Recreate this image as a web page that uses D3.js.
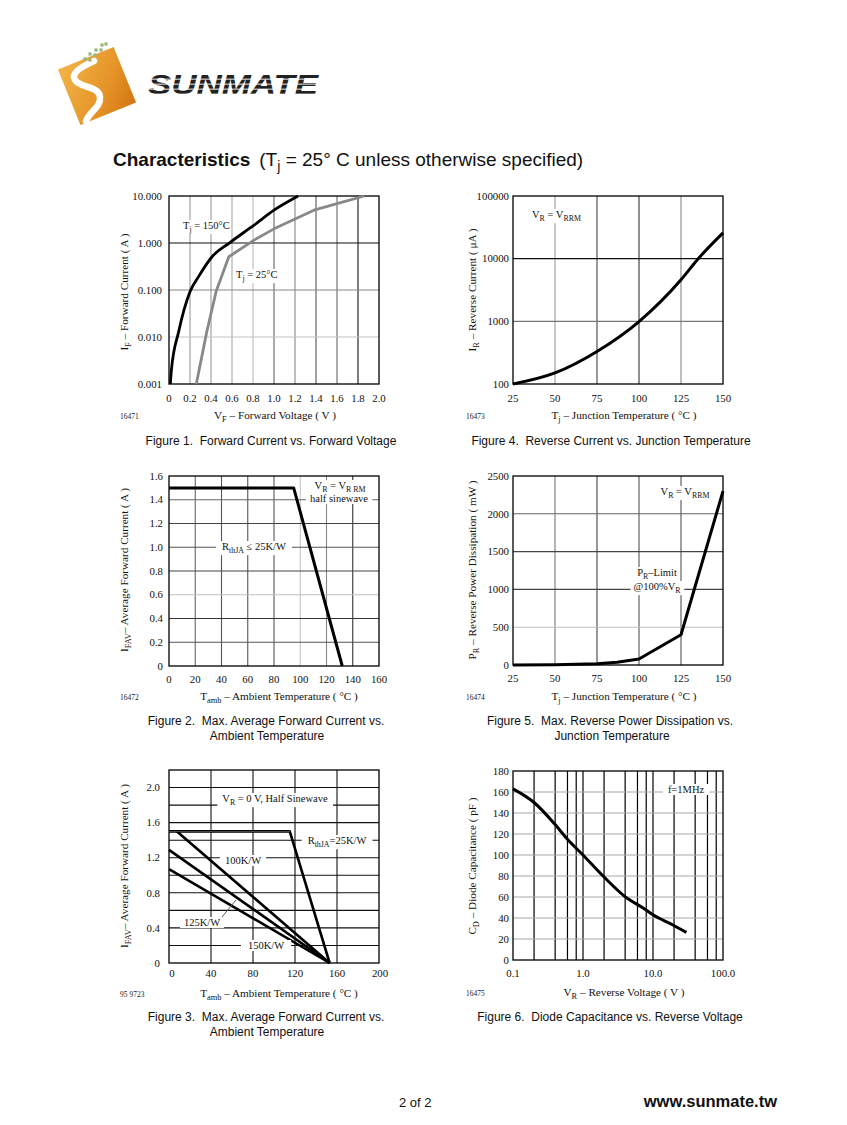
<!DOCTYPE html>
<html><head><meta charset="utf-8">
<script src="https://cdn.jsdelivr.net/npm/d3@7"></script>
<style>body{margin:0;background:#fff}svg{display:block}</style>
</head><body>
<script>
// ---------------- DATA ----------------
// Figure 1: forward current vs forward voltage
const fig1XTicks = [0,0.2,0.4,0.6,0.8,1.0,1.2,1.4,1.6,1.8,2.0];
const fig1XTickLabels = ["0","0.2","0.4","0.6","0.8","1.0","1.2","1.4","1.6","1.8","2.0"];
const fig1YTicks = [0.001,0.01,0.1,1,10];
const fig1YTickLabels = ["0.001","0.010","0.100","1.000","10.000"];
const fig1Volt150 = [0.013,0.022,0.092,0.2,0.28,0.41,0.58,0.81,1.0,1.23];
const fig1Curr150 = [0.001,0.0019,0.013,0.092,0.19,0.51,1.02,2.4,5.0,10];
const fig1Volt25 = [0.26,0.36,0.45,0.57,0.81,1.0,1.38,1.66,1.86];
const fig1Curr25 = [0.001,0.013,0.095,0.51,1.15,2.0,5.0,7.5,10];

// Figure 4: reverse current vs junction temperature
const fig4XTicks = [25,50,75,100,125,150];
const fig4YTicks = [100,1000,10000,100000];
const fig4YTickLabels = ["100","1000","10000","100000"];
const fig4Temp = [25,50,75,100,125,135,150];
const fig4Curr = [100,150,330,990,4600,9800,25800];

// Figure 2: max average forward current vs ambient temperature
const fig2XTicks = [0,20,40,60,80,100,120,140,160];
const fig2YTicks = [0,0.2,0.4,0.6,0.8,1.0,1.2,1.4,1.6];
const fig2YTickLabels = ["0","0.2","0.4","0.6","0.8","1.0","1.2","1.4","1.6"];
const fig2Temp = [0,95,132];
const fig2Curr = [1.5,1.5,0];

// Figure 5: max reverse power dissipation vs junction temperature
const fig5XTicks = [25,50,75,100,125,150];
const fig5YTicks = [0,500,1000,1500,2000,2500];
const fig5Temp = [25,50,75,87,100,125,150];
const fig5Power = [0,2,15,35,80,400,2300];

// Figure 3: max average forward current vs ambient temperature, several R_thJA
const fig3XTicks = [0,40,80,120,160,200];
const fig3YTicks = [0,0.4,0.8,1.2,1.6,2.0];
const fig3YTickLabels = ["0","0.4","0.8","1.2","1.6","2.0"];
const fig3YGrid = [0.2,0.4,0.6,0.8,1.0,1.2,1.4,1.6,1.8,2.0];
const fig3Temp25 = [0,115,153];
const fig3Curr25 = [1.5,1.5,0];
const fig3Temp100 = [7.6,153];
const fig3Curr100 = [1.5,0];
const fig3Temp125 = [0,153];
const fig3Curr125 = [1.29,0];
const fig3Temp150 = [0,153];
const fig3Curr150 = [1.07,0];

// Figure 6: diode capacitance vs reverse voltage
const fig6XTicks = [0.1,1,10,100];
const fig6XTickLabels = ["0.1","1.0","10.0","100.0"];
const fig6XGrid = [0.2,0.4,0.6,0.8,1,2,4,6,8,10,20,40,60,80];
const fig6YTicks = [0,20,40,60,80,100,120,140,160,180];
const fig6Volt = [0.1,0.2,0.4,0.6,1.0,2.0,3.94,7.6,10,19,30];
const fig6Cap = [163,150,129,115,100,79,60.6,48.6,43,33.6,26.3];

// ---------------- DRAW ----------------
const SERIF = "'Liberation Serif','Times New Roman',serif";
const SANS = "'Liberation Sans',Arial,sans-serif";
const svg = d3.select("body").append("svg").attr("width",847).attr("height",1125)
  .style("background","#fff");

function rich(t, parts, size){
  let shifted = false;
  parts.forEach(p=>{
    const [s, kind] = Array.isArray(p) ? p : [p, ""];
    const ts = t.append("tspan").text(s);
    if(kind==="sub"){
      ts.attr("font-size", size*0.75);
      if(!shifted){ ts.attr("dy", size*0.3); shifted = true; }
    } else {
      ts.attr("font-size", size);
      if(shifted){ ts.attr("dy", -size*0.3); shifted = false; }
    }
  });
  return t;
}

function note(g, x, y, parts, anchor, size, padX){
  const t = g.append("text").attr("x",x).attr("y",y)
    .attr("font-family",SERIF).attr("text-anchor",anchor||"start").attr("fill","#111");
  rich(t, parts, size||10.5);
  const b = t.node().getBBox();
  const px = padX==null?3:padX;
  g.insert("rect", function(){ return t.node(); })
    .attr("x", b.x-px).attr("y", b.y).attr("width", b.width+2*px).attr("height", b.height)
    .attr("fill","#fff");
  return t;
}

function chart(c){
  const g = svg.append("g");
  const x = c.x, y = c.y;
  const [X0,X1] = x.range(), [Y1,Y0] = y.range();
  c.vgrid.forEach((v,i)=>{
    g.append("line").attr("x1",x(v)).attr("x2",x(v)).attr("y1",Y0).attr("y2",Y1)
      .attr("stroke",c.vcol[i] || c.vcol[0]).attr("stroke-width",c.gw||1.1);
  });
  c.hgrid.forEach((v,i)=>{
    g.append("line").attr("x1",X0).attr("x2",X1).attr("y1",y(v)).attr("y2",y(v))
      .attr("stroke",c.hcol[i] || c.hcol[0]).attr("stroke-width",c.gw||1.1);
  });
  g.append("rect").attr("x",X0).attr("y",Y0).attr("width",X1-X0).attr("height",Y1-Y0)
    .attr("fill","none").attr("stroke","#000").attr("stroke-width",1.3);
  c.xticks.forEach((v,i)=>{
    g.append("text").attr("x",x(v)+(c.xdx?c.xdx(i):0)).attr("y",Y1+c.xoff)
      .attr("text-anchor","middle").attr("font-family",SERIF).attr("font-size",10.8)
      .attr("fill","#111").text(c.xlabels ? c.xlabels[i] : String(v));
  });
  c.yticks.forEach((v,i)=>{
    g.append("text").attr("x",X0-c.yoff).attr("y",y(v)+3.7)
      .attr("text-anchor","end").attr("font-family",SERIF).attr("font-size",10.8)
      .attr("fill","#111").text(c.ylabels ? c.ylabels[i] : String(v));
  });
  c.series.forEach(s=>{
    const pts = s.xs.map((v,i)=>[x(v), y(s.ys[i])]);
    g.append("path").attr("d", d3.line().curve(s.curve||d3.curveLinear)(pts))
      .attr("fill","none").attr("stroke",s.color||"#000").attr("stroke-width",s.w||2.8)
      .attr("stroke-linejoin","round");
  });
  const xt = g.append("text").attr("x",c.xtitle[0]).attr("y",c.xtitle[1])
    .attr("text-anchor","middle").attr("font-family",SERIF).attr("fill","#111");
  rich(xt, c.xtitle[2], 11.2);
  const yt = g.append("text").attr("transform",`translate(${c.ytitle[0]},${c.ytitle[1]}) rotate(-90)`)
    .attr("text-anchor","middle").attr("font-family",SERIF).attr("fill","#111");
  rich(yt, c.ytitle[2], 11.2);
  g.append("text").attr("x",c.id[0]).attr("y",c.id[1]).attr("font-family",SERIF)
    .attr("font-size",7.5).attr("fill","#222").text(c.id[2]);
  c.caption.forEach(cp=>{
    g.append("text").attr("x",cp[0]).attr("y",cp[1]).attr("text-anchor","middle")
      .attr("font-family",SANS).attr("font-size",12).attr("fill","#111")
      .attr("xml:space","preserve").style("white-space","pre").text(cp[2]);
  });
  return g;
}

// ----- Figure 1 -----
const g1 = chart({
  x: d3.scaleLinear().domain([0,2]).range([169,379]),
  y: d3.scaleLog().domain([0.001,10]).range([384,196]),
  vgrid:[0.2,0.4,0.6,0.8,1.0,1.2,1.4,1.6,1.8],
  vcol:["#999","#999","#aaa","#bbb","#666","#888","#555","#666","#111"],
  hgrid:[0.01,0.1,1], hcol:["#c4c4c4","#888","#111"],
  xticks:fig1XTicks, xlabels:fig1XTickLabels, xoff:18,
  yticks:fig1YTicks, ylabels:fig1YTickLabels, yoff:7,
  series:[
    {xs:fig1Volt25, ys:fig1Curr25, color:"#888", w:2.8},
    {xs:fig1Volt150, ys:fig1Curr150, color:"#000", w:2.8, curve:d3.curveMonotoneX}
  ],
  xtitle:[275,419,[["V"],["F","sub"],[" – Forward Voltage ( V )"]]],
  ytitle:[128,292,[["I"],["F","sub"],[" – Forward Current ( A )"]]],
  id:[120,419,"16471"],
  caption:[[271,445,"Figure 1.  Forward Current vs. Forward Voltage"]]
});
note(g1,183,229,[["T"],["j","sub"],[" = 150°C"]],"start",10.5,1);
note(g1,236,278,[["T"],["j","sub"],[" = 25°C"]],"start",10.5,1);

// ----- Figure 4 -----
const g4 = chart({
  x: d3.scaleLinear().domain([25,150]).range([513,723]),
  y: d3.scaleLog().domain([100,100000]).range([384,196]),
  vgrid:[50,75,100,125], vcol:["#999","#444","#333","#888"],
  hgrid:[1000,10000], hcol:["#777","#111"],
  xticks:fig4XTicks, xoff:18,
  yticks:fig4YTicks, ylabels:fig4YTickLabels, yoff:4,
  series:[{xs:fig4Temp, ys:fig4Curr, curve:d3.curveMonotoneX, w:3}],
  xtitle:[624,419,[["T"],["j","sub"],[" – Junction Temperature ( °C )"]]],
  ytitle:[476,290,[["I"],["R","sub"],[" – Reverse Current ( μA )"]]],
  id:[466,419,"16473"],
  caption:[[611,445,"Figure 4.  Reverse Current vs. Junction Temperature"]]
});
note(g4,532,218,[["V"],["R","sub"],[" = V"],["RRM","sub"]],"start",10.5,2);

// ----- Figure 2 -----
const g2 = chart({
  x: d3.scaleLinear().domain([0,160]).range([169,379]),
  y: d3.scaleLinear().domain([0,1.6]).range([666,476]),
  vgrid:[20,40,60,80,100,120,140], vcol:["#666","#555","#555","#555","#c4c4c4","#888","#333"],
  hgrid:[0.2,0.4,0.6,0.8,1.0,1.2,1.4], hcol:["#555","#333","#c0c0c0","#444","#555","#444","#666"],
  xticks:fig2XTicks, xoff:17,
  yticks:fig2YTicks, ylabels:fig2YTickLabels, yoff:6,
  series:[{xs:fig2Temp, ys:fig2Curr, w:3}],
  xtitle:[279,700,[["T"],["amb","sub"],[" – Ambient Temperature ( °C )"]]],
  ytitle:[128,570,[["I"],["FAV","sub"],["– Average Forward Current ( A )"]]],
  id:[120,700,"16472"],
  caption:[[266,725,"Figure 2.  Max. Average Forward Current vs."],[267,740,"Ambient Temperature"]]
});
note(g2,340,489,[["V"],["R","sub"],[" = V"],["R RM","sub"]],"middle",10.5,4);
note(g2,339,502,[["half sinewave"]],"middle",10.5,4);
note(g2,254,550,[["R"],["thJA","sub"],[" ≤ 25K/W"]],"middle",10.5,6);

// ----- Figure 5 -----
const g5 = chart({
  x: d3.scaleLinear().domain([25,150]).range([513,723]),
  y: d3.scaleLinear().domain([0,2500]).range([665,476]),
  vgrid:[50,75,100,125], vcol:["#777","#444","#555","#555"],
  hgrid:[500,1000,1500,2000], hcol:["#c0c0c0","#444","#444","#666"],
  xticks:fig5XTicks, xoff:17,
  yticks:fig5YTicks, yoff:4,
  series:[{xs:fig5Temp, ys:fig5Power, w:3}],
  xtitle:[624,700,[["T"],["j","sub"],[" – Junction Temperature ( °C )"]]],
  ytitle:[476,570,[["P"],["R","sub"],[" – Reverse Power Dissipation ( mW )"]]],
  id:[466,700,"16474"],
  caption:[[610,725,"Figure 5.  Max. Reverse Power Dissipation vs."],[612,740,"Junction Temperature"]]
});
note(g5,685,495,[["V"],["R","sub"],[" = V"],["RRM","sub"]],"middle",10.5,3);
note(g5,657,576,[["P"],["R","sub"],["–Limit"]],"middle",10.5,3);
note(g5,657,590,[["@100%V"],["R","sub"]],"middle",10.5,3);

// ----- Figure 3 -----
const g3 = chart({
  x: d3.scaleLinear().domain([0,200]).range([169,379]),
  y: d3.scaleLinear().domain([0,2.2]).range([963,770]),
  vgrid:[40,80,120,160], vcol:["#111"],
  hgrid:fig3YGrid, hcol:["#111"],
  xticks:fig3XTicks, xoff:14, xdx:(i)=> i===0?3:(i===5?1:0),
  yticks:fig3YTicks, ylabels:fig3YTickLabels, yoff:9,
  series:[
    {xs:fig3Temp150, ys:fig3Curr150, w:2.6},
    {xs:fig3Temp125, ys:fig3Curr125, w:2.6},
    {xs:fig3Temp100, ys:fig3Curr100, w:2.6},
    {xs:fig3Temp25, ys:fig3Curr25, w:2.6}
  ],
  xtitle:[279,997,[["T"],["amb","sub"],[" – Ambient Temperature ( °C )"]]],
  ytitle:[128,866,[["I"],["FAV","sub"],["– Average Forward Current ( A )"]]],
  id:[120,997,"95 9723"],
  caption:[[266,1021,"Figure 3.  Max. Average Forward Current vs."],[267,1036,"Ambient Temperature"]]
});
g3.append("line").attr("x1",169).attr("x2",290).attr("y1",831.5).attr("y2",831.5)
  .attr("stroke","#777").attr("stroke-width",1.2).attr("opacity",0.6);
note(g3,275,802,[["V"],["R","sub"],[" = 0 V, Half Sinewave"]],"middle",10.5,5);
note(g3,337,844,[["R"],["thJA","sub"],["=25K/W"]],"middle",10.5,6);
note(g3,243,864,[["100K/W"]],"middle",10.5,5);
note(g3,202,926,[["125K/W"]],"middle",10.5,4);
g3.append("line").attr("x1",222).attr("y1",917).attr("x2",236).attr("y2",900)
  .attr("stroke","#555").attr("stroke-width",1);
note(g3,266,949,[["150K/W"]],"middle",10.5,7);

// ----- Figure 6 -----
const g6 = chart({
  x: d3.scaleLog().domain([0.1,100]).range([513,723]),
  y: d3.scaleLinear().domain([0,180]).range([960,771]),
  vgrid:fig6XGrid, vcol:["#000"], gw:1.2,
  hgrid:[20,40,60,80,100,120,140,160], hcol:["#a8a8a8"],
  xticks:fig6XTicks, xlabels:fig6XTickLabels, xoff:17,
  yticks:fig6YTicks, yoff:4,
  series:[{xs:fig6Volt, ys:fig6Cap, curve:d3.curveMonotoneX, w:3}],
  xtitle:[624,996,[["V"],["R","sub"],[" – Reverse Voltage ( V )"]]],
  ytitle:[476,866,[["C"],["D","sub"],[" – Diode Capacitance ( pF )"]]],
  id:[466,996,"16475"],
  caption:[[610,1021,"Figure 6.  Diode Capacitance vs. Reverse Voltage"]]
});
note(g6,686,793,[["f=1MHz"]],"middle",10.5,5);

// ----- Title -----
const title = svg.append("text").attr("x",113).attr("y",166).attr("font-family",SANS)
  .attr("font-size",19).attr("fill","#111");
title.append("tspan").attr("font-weight","bold").text("Characteristics");
title.append("tspan").attr("dx",9).text("(T");
title.append("tspan").attr("font-size",14).attr("dy",5).text("j");
title.append("tspan").attr("dy",-5).attr("xml:space","preserve").text(" = 25° C unless otherwise specified)");

// ----- Footer -----
svg.append("text").attr("x",399).attr("y",1107).attr("font-family",SANS).attr("font-size",13)
  .attr("fill","#111").text("2 of 2");
svg.append("text").attr("x",777).attr("y",1107).attr("text-anchor","end").attr("font-family",SANS)
  .attr("font-size",16.5).attr("font-weight","bold").attr("fill","#111").text("www.sunmate.tw");

// ----- Logo -----
const defs = svg.append("defs");
const grad = defs.append("linearGradient").attr("id","og").attr("x1","0").attr("y1","0").attr("x2","1").attr("y2","1");
grad.append("stop").attr("offset","0").attr("stop-color","#f2b548");
grad.append("stop").attr("offset","0.6").attr("stop-color","#e69428");
grad.append("stop").attr("offset","1").attr("stop-color","#d27612");
const pat = defs.append("pattern").attr("id","stripes").attr("patternUnits","userSpaceOnUse")
  .attr("width",10).attr("height",5);
pat.append("rect").attr("width",10).attr("height",5).attr("fill","#222");
pat.append("rect").attr("y",3.6).attr("width",10).attr("height",1.1).attr("fill","#ddd");
const logo = svg.append("g");
logo.append("rect").attr("x",67).attr("y",56).attr("width",60).attr("height",60)
  .attr("fill","url(#og)").attr("transform","rotate(-22,97,86)");
logo.append("path").attr("d","M94,61 C84,66 70,72 75,80 C80,88 99,86 100,97 C101,107 90,111 86,121")
  .attr("fill","none").attr("stroke","#fff").attr("stroke-width",6.5).attr("stroke-linecap","round");
const dots = [[102,45],[96,50],[101,50],[90,54],[95,55],[85,59],[90,60],[106,44]];
dots.forEach(d=>logo.append("rect").attr("x",d[0]-1.6).attr("y",d[1]-1.6).attr("width",3.2).attr("height",3.2)
  .attr("fill","#9cb57a"));
logo.append("text").attr("x",148).attr("y",94).attr("font-family",SANS).attr("font-weight","bold")
  .attr("font-style","italic").attr("font-size",27).attr("textLength",170).attr("lengthAdjust","spacingAndGlyphs")
  .attr("fill","url(#stripes)").text("SUNMATE");
</script>
</body></html>
